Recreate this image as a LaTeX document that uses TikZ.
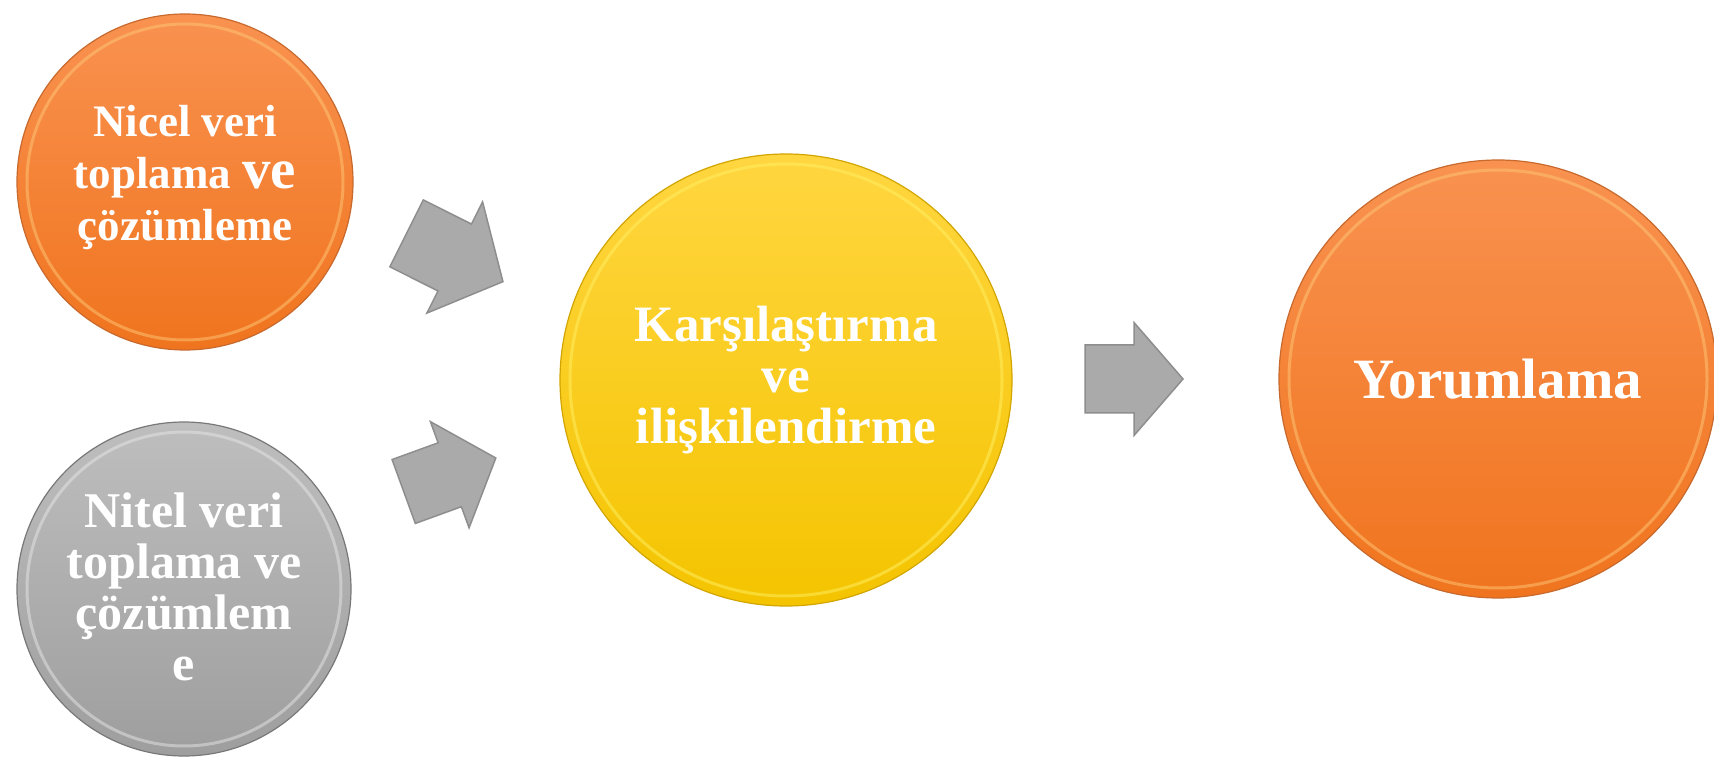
\documentclass[tikz,border=0pt]{standalone}
\usepackage{fontspec}
\setmainfont{Liberation Serif}
\usetikzlibrary{calc}
\definecolor{orTop}{RGB}{249,146,80}
\definecolor{orBot}{RGB}{240,116,30}
\definecolor{orRim}{RGB}{200,105,45}
\definecolor{orHi}{RGB}{253,200,120}
\definecolor{yeTop}{RGB}{255,214,64}
\definecolor{yeBot}{RGB}{244,196,0}
\definecolor{yeRim}{RGB}{210,165,0}
\definecolor{yeHi}{RGB}{255,240,100}
\definecolor{grTop}{RGB}{190,190,190}
\definecolor{grBot}{RGB}{158,158,158}
\definecolor{grRim}{RGB}{120,120,120}
\definecolor{grHi}{RGB}{230,230,230}
\definecolor{arFill}{RGB}{170,170,170}
\definecolor{arLine}{RGB}{142,142,142}
\newcommand\mkbutton[7]{%
  \node[circle, minimum size={2*#3pt}, inner sep=0pt, draw=#4Rim, line width=1.2pt,
        top color=#4Top, bottom color=#4Bot] (#1) at (#2) {};
  \draw[#4Hi, line width=3pt, opacity=.5] (#1.center) circle [radius=#3-10];
  \node[buttontext, font=#5] (#1-t) at ($(#1.center)+(0,#6)$) {#7};
}
\tikzset{
  buttontext/.style={text=white, align=center, inner sep=0pt},
  blockarrow/.pic={
    \filldraw[fill=arFill, draw=arLine, line width=1.5pt, line join=miter]
      (-49,-34) -- (0,-34) -- (0,-56.5) -- (49,0) -- (0,56.5) -- (0,34) -- (-49,34) -- cycle;
  }
}
\begin{document}
\begin{tikzpicture}[x=1pt,y=1pt]
\useasboundingbox (0,0) rectangle (1714,756);
\fill[white] (0,0) rectangle (1714,756);
\mkbutton{nicel}{185,574}{168}{or}{\fontsize{45}{52}\selectfont\bfseries}{4}{Nicel veri\\toplama {\fontsize{57}{52}\selectfont ve}\\çözümleme}
\mkbutton{nitel}{184,167}{167}{gr}{\fontsize{50}{51}\selectfont\bfseries}{2}{Nitel veri\\toplama ve\\çözümlem\\e}
\mkbutton{karsi}{786,376}{226}{ye}{\fontsize{51}{51}\selectfont\bfseries}{0}{Karşılaştırma\\ve\\ilişkilendirme}
\mkbutton{yorum}{1498,377}{219}{or}{\fontsize{57}{57}\selectfont\bfseries}{0}{Yorumlama}
\pic[rotate=-26.6, scale=1.1] (a1) at (454.75,498.5) {blockarrow};
\pic[rotate=20] (a2) at (449.75,281.25) {blockarrow};
\pic (a3) at (1134,377) {blockarrow};
\end{tikzpicture}
\end{document}
